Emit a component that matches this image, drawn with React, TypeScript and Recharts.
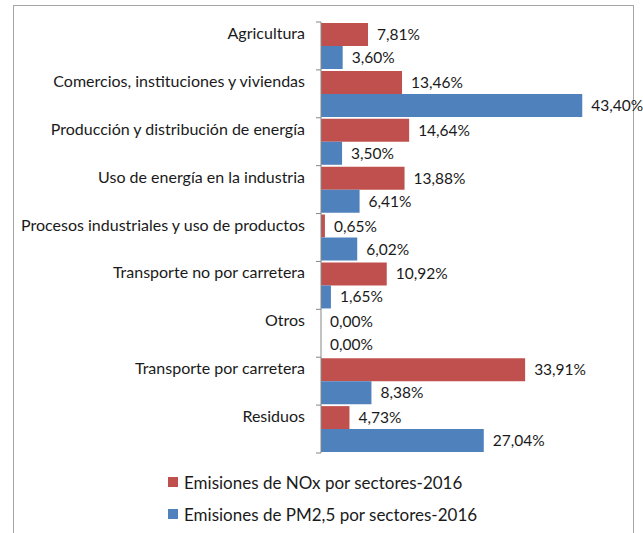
import React from "react";
import { Bar, BarChart, LabelList, XAxis, YAxis } from "recharts";

const categories = [
  "Agricultura",
  "Comercios, instituciones y viviendas",
  "Producción y distribución de energía",
  "Uso de energía en la industria",
  "Procesos industriales y uso de productos",
  "Transporte no por carretera",
  "Otros",
  "Transporte por carretera",
  "Residuos",
];
const noxValues = [7.81, 13.46, 14.64, 13.88, 0.65, 10.92, 0.0, 33.91, 4.73];
const pm25Values = [3.6, 43.4, 3.5, 6.41, 6.02, 1.65, 0.0, 8.38, 27.04];

const noxName = "Emisiones de NOx por sectores-2016";
const pm25Name = "Emisiones de PM2,5 por sectores-2016";

const RED = "#C0504D";
const BLUE = "#4F81BD";
const FONT = "Lato, 'Open Sans', sans-serif";

const W = 643;
const H = 533;
const TOP = 22;
const BOTTOM = 80;
const AXIS_X = 321;
const BAND = (H - TOP - BOTTOM) / categories.length;

const data = categories.map((name, i) => ({
  name,
  nox: noxValues[i],
  pm25: pm25Values[i],
}));

const fmt = (v: any) => `${Number(v).toFixed(2).replace(".", ",")}%`;

// labels sit level with the first bar of each group, ticks mark group edges
const CategoryTick = ({ x, y, payload, index }: any) => {
  const ax = x + 16;
  return (
    <g>
      <text x={x} y={y - BAND / 4} dy={5} textAnchor="end" fontSize={16} fontFamily={FONT} fill="#1a1a1a">
        {payload.value}
      </text>
      <line x1={ax - 5} x2={ax} y1={y - BAND / 2} y2={y - BAND / 2} stroke="#868686" />
      {index === categories.length - 1 && (
        <line x1={ax - 5} x2={ax} y1={y + BAND / 2} y2={y + BAND / 2} stroke="#868686" />
      )}
    </g>
  );
};

const legendItems = [
  [noxName, RED],
  [pm25Name, BLUE],
];

export default function App() {
  return (
    <div style={{ position: "absolute", left: 0, top: 0, width: W, height: H, background: "#fff", overflow: "hidden" }}>
      <div
        style={{
          position: "absolute",
          left: 13,
          top: 5,
          width: 621,
          height: 560,
          border: "1px solid #a6a6a6",
          boxSizing: "border-box",
        }}
      />
      <div style={{ position: "absolute", left: 0, top: 0 }}>
        <BarChart
          width={W}
          height={H}
          data={data}
          layout="vertical"
          margin={{ top: TOP, right: 21, bottom: BOTTOM, left: 0 }}
          barCategoryGap={1}
          barGap={0}
        >
          <XAxis type="number" domain={[0, 50]} hide />
          <YAxis
            type="category"
            dataKey="name"
            width={AXIS_X}
            tickSize={0}
            tickMargin={16}
            tick={<CategoryTick />}
            axisLine={{ stroke: "#868686" }}
            interval={0}
          />
          <Bar dataKey="nox" name={noxName} fill={RED} minPointSize={0.01} isAnimationActive={false}>
            <LabelList dataKey="nox" position="right" offset={9} formatter={fmt} fontSize={15.5} fontFamily={FONT} fill="#1a1a1a" />
          </Bar>
          <Bar dataKey="pm25" name={pm25Name} fill={BLUE} minPointSize={0.01} isAnimationActive={false}>
            <LabelList dataKey="pm25" position="right" offset={9} formatter={fmt} fontSize={15.5} fontFamily={FONT} fill="#1a1a1a" />
          </Bar>
        </BarChart>
      </div>
      <div style={{ position: "absolute", left: 168, top: 466, fontFamily: FONT, fontSize: 17, color: "#1a1a1a" }}>
        {legendItems.map(([label, color]) => (
          <div key={label} style={{ display: "flex", alignItems: "center", height: 32 }}>
            <span style={{ width: 10, height: 10, background: color, marginRight: 6, display: "inline-block" }} />
            <span>{label}</span>
          </div>
        ))}
      </div>
    </div>
  );
}
